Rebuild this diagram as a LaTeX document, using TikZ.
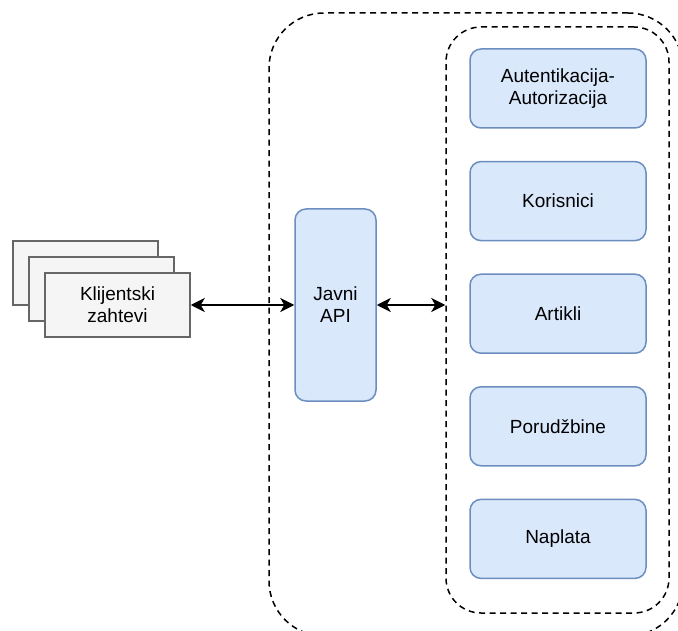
\documentclass[tikz,border=0pt]{standalone}
\usepackage{fontspec}
\setmainfont{Liberation Sans}
\usetikzlibrary{arrows.meta}
\definecolor{plavaPozadina}{HTML}{DAE8FC}
\definecolor{plavaIvica}{HTML}{6C8EBF}
\definecolor{sivaPozadina}{HTML}{F5F5F5}
\definecolor{sivaIvica}{HTML}{666666}
\tikzset{
    box/.style={
        rectangle,
        draw=plavaIvica,
        fill=plavaPozadina,
        line width=1.5pt,
        rounded corners=11pt,
        minimum width=176pt,
        minimum height=79pt,
        align=center,
        font=\fontsize{19}{22}\selectfont
    },
    apibox/.style={
        box,
        minimum width=81pt,
        minimum height=192pt
    },
    klijentbox/.style={
        box,
        draw=sivaIvica,
        fill=sivaPozadina,
        rounded corners=0pt,
        minimum width=145pt,
        minimum height=64pt
    },
    okvir/.style={
        rectangle,
        draw=black,
        line width=1.5pt,
        dash pattern=on 6pt off 4.5pt
    },
    veza/.style={
        {Stealth[length=14pt,width=14pt,inset=4pt]}-{Stealth[length=14pt,width=14pt,inset=4pt]},
        line width=1.5pt
    }
}
\begin{document}
\begin{tikzpicture}[x=1pt, y=-1pt]
    \useasboundingbox (0,0) rectangle (678,631);

    % okviri
    \node[okvir, rounded corners=55pt, minimum width=414pt, minimum height=623pt] (sistem) at (476,324.5) {};
    \node[okvir, rounded corners=35pt, minimum width=223pt, minimum height=586pt] (servisi) at (557.5,320) {};

    % klijentski zahtevi
    \node[klijentbox] (zahtev3) at (85.5,273) {};
    \node[klijentbox] (zahtev2) at (101.5,289) {};
    \node[klijentbox] (klijent) at (117.5,305) {Klijentski\\zahtevi};

    \node[apibox] (api) at (335.5,305) {Javni\\API};

    % mikroservisi
    \foreach \ime/\tekst [count=\i from 0] in {auth/{Autentikacija-\\Autorizacija}, korisnici/Korisnici, artikli/Artikli, porudzbine/Porudžbine, naplata/Naplata} {
        \node[box] (\ime) at (558, 88.5+112.6*\i) {\tekst};
    }

    \draw[veza] (klijent.east) -- (api.west);
    \draw[veza] (api.east) -- (api.east -| servisi.west);
\end{tikzpicture}
\end{document}
